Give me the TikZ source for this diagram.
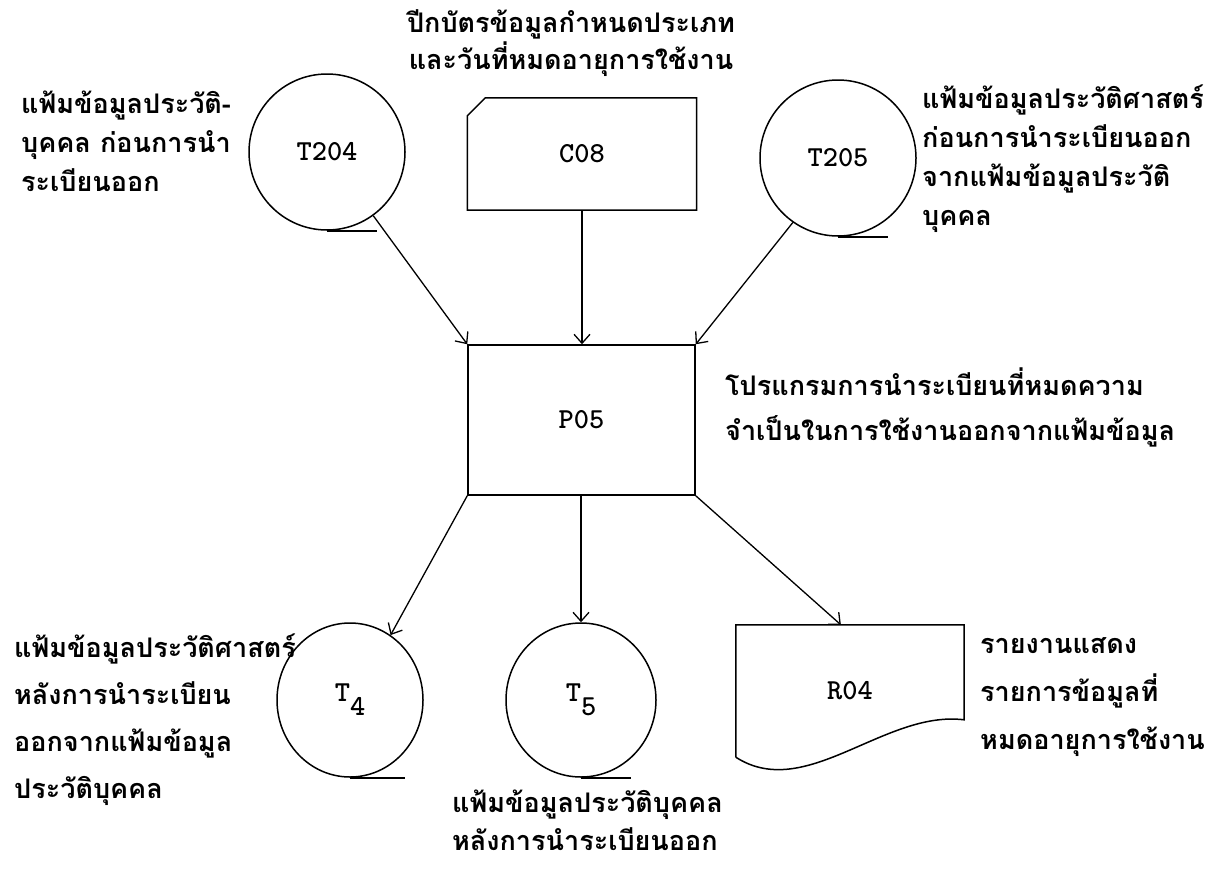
\documentclass[tikz,border=0pt]{standalone}
\usepackage{fontspec}
\newfontfamily\thaifont[Script=Thai]{Loma}
\usetikzlibrary{arrows.meta, calc, shapes.geometric}

\begin{document}
\begin{tikzpicture}[x=1pt, y=-1pt, every node/.style={inner sep=0pt},
    desc/.style={font=\thaifont\bfseries\fontsize{27}{#1}\selectfont, align=left, anchor=west},
    desc/.default=40,
    lab/.style={font=\ttfamily\bfseries\fontsize{29}{29}\selectfont},
    tapefile/.style={ellipse, draw, line width=1.5pt, minimum width=156pt, minimum height=156pt},
    flow/.style={-{Straight Barb[length=9pt,width=16pt]}, line width=1.3pt}]
    \useasboundingbox (0,0) rectangle (1217,878);

    % Input files and card
    \node[tapefile, lab] (T204) at (327,152) {T204};
    \node[tapefile, lab] (T205) at (838,158) {T205};
    \node[lab, minimum width=229, minimum height=112] (C08) at (582,154) {C08};
    \draw[line width=1.5pt] ($(C08.north west)+(0,18)$) -- ($(C08.north west)+(18,0)$)
        -- (C08.north east) -- (C08.south east) -- (C08.south west) -- cycle;
    \draw[line width=1.5pt] (T204.south) -- ++(50,0);
    \draw[line width=1.5pt] (T205.south) -- ++(50,0);

    % Program
    \node[lab, draw, line width=1.5pt, minimum width=227, minimum height=150] (P05) at (581.5,420) {P05};

    % Output files and report
    \node[tapefile, lab, minimum width=146pt, minimum height=154pt] (T4) at (350,700) {T\raisebox{-14pt}{4}};
    \node[tapefile, lab, minimum width=150pt, minimum height=154pt] (T5) at (581,700) {T\raisebox{-14pt}{5}};
    \draw[line width=1.5pt] (T4.south) -- ++(55,0);
    \draw[line width=1.5pt] (T5.south) -- ++(50,0);
    \node[lab, minimum width=228, minimum height=132] (R04) at (850,691) {R04};
    \draw[line width=1.5pt] (R04.south west) -- (R04.north west) -- (R04.north east)
        -- ($(R04.north east)+(0,95)$) .. controls +(-80,-10) and +(70,45) .. (R04.south west);

    % Flow arrows
    \draw[flow] (T204.-54) -- (P05.north west);
    \draw[flow] (C08.south) -- (C08.south |- P05.north);
    \draw[flow] (T205.-125) -- (P05.north east);
    \draw[flow] (P05.south west) -- (T4.58);
    \draw[flow] (T5.north |- P05.south) -- (T5.north);
    \draw[flow] (P05.south east) -- ($(R04.north west)!0.46!(R04.north east)$);

    % Labels
    \node[desc=37, align=center, anchor=center] (cardtxt) at (571,43)
        {ปีกบัตรข้อมูลกำหนดประเภท\\และวันที่หมดอายุการใช้งาน};
    \node[desc=39] (t204txt) at (21,141)
        {แฟ้มข้อมูลประวัติ-\\บุคคล ก่อนการนำ\\ระเบียนออก};
    \node[desc=39] (t205txt) at (922,159)
        {แฟ้มข้อมูลประวัติศาสตร์\\ก่อนการนำระเบียนออก\\จากแฟ้มข้อมูลประวัติ\\บุคคล};
    \node[desc=45] (p05txt) at (725,407)
        {โปรแกรมการนำระเบียนที่หมดความ\\จำเป็นในการใช้งานออกจากแฟ้มข้อมูล};
    \node[desc=47] (t4txt) at (14,720)
        {แฟ้มข้อมูลประวัติศาสตร์\\หลังการนำระเบียน\\ออกจากแฟ้มข้อมูล\\ประวัติบุคคล};
    \node[desc=38] (t5txt) at (452,820)
        {แฟ้มข้อมูลประวัติบุคคล\\หลังการนำระเบียนออก};
    \node[desc=48] (r04txt) at (980,697)
        {รายงานแสดง\\รายการข้อมูลที่\\หมดอายุการใช้งาน};
\end{tikzpicture}
\end{document}
